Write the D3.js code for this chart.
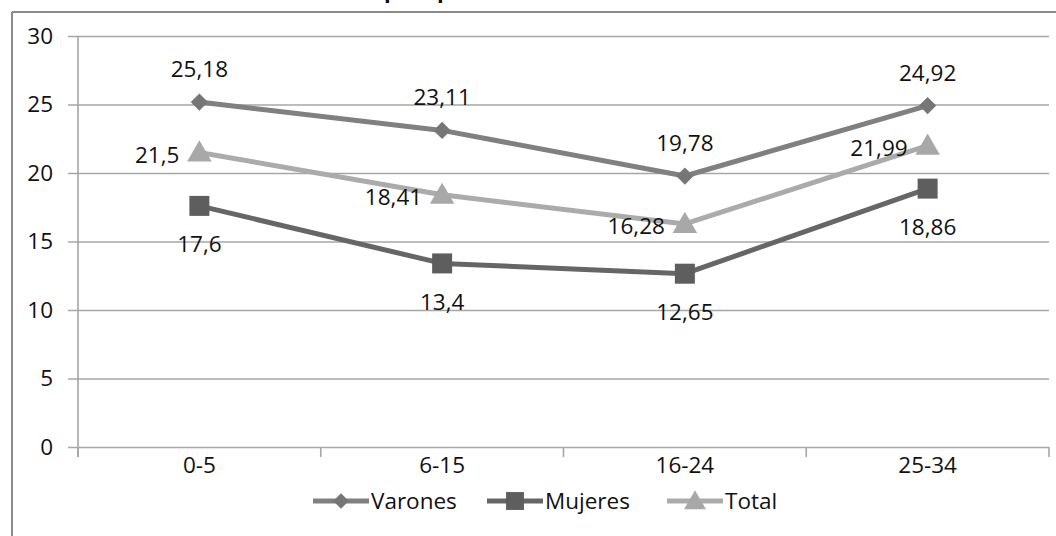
<!DOCTYPE html>
<html>
<head>
<meta charset="utf-8">
<script src="https://cdn.jsdelivr.net/npm/d3@7"></script>
<style>
  html, body { margin: 0; padding: 0; background: #fff; }
  svg { display: block; }
  text { font-family: "Open Sans", Lato, sans-serif; fill: #111; }
</style>
</head>
<body>
<svg id="chart" width="1056" height="536"></svg>
<script>
// Age groups and rates by sex
const categories = ["0-5", "6-15", "16-24", "25-34"];
const varones = [25.18, 23.11, 19.78, 24.92];
const mujeres = [17.6, 13.4, 12.65, 18.86];
const total = [21.5, 18.41, 16.28, 21.99];
const yTicks = [0, 5, 10, 15, 20, 25, 30];
const titleText = "Tasa de desempleo por sexo";

const series = [
  { name: "Varones", values: varones, line: "#808080", fill: "#767676", symbol: d3.symbolDiamond2, size: 190, label: "above" },
  { name: "Mujeres", values: mujeres, line: "#666666", fill: "#5e5e5e", symbol: d3.symbolSquare, size: 400, label: "below" },
  { name: "Total",   values: total,   line: "#ababab", fill: "#a8a8a8", symbol: d3.symbolTriangle, size: 260, label: "left" }
];

const FONT = "'Open Sans', Lato, sans-serif";
const FS = 22.5;

const svg = d3.select("#chart");
const fmt = v => String(v).replace(".", ",");

const plotLeft = 78, plotRight = 1049, plotTop = 36, plotBottom = 447;
const x = d3.scaleBand().domain(categories).range([plotLeft, plotRight]);
const y = d3.scaleLinear().domain([0, 30]).range([plotBottom, plotTop]);

// Outer frame (only top and left edges fall inside the view)
svg.append("line").attr("x1", 12).attr("x2", 1056).attr("y1", 12).attr("y2", 12)
  .attr("stroke", "#8c8c8c").attr("stroke-width", 2);
svg.append("line").attr("x1", 12).attr("x2", 12).attr("y1", 12).attr("y2", 536)
  .attr("stroke", "#8c8c8c").attr("stroke-width", 2);

// Title sits above the frame, mostly out of view
const title = svg.append("text").attr("y", -2).attr("font-size", 22).attr("font-weight", "bold")
  .text(titleText);
const pIdx = titleText.indexOf("p");
const pPos = title.node().getStartPositionOfChar(pIdx).x;
title.attr("x", 384 - pPos);

// Horizontal gridlines with left tick stubs
const yAxis = d3.axisLeft(y).tickValues(yTicks).tickSize(0).tickPadding(0).tickFormat(d => d);
const gy = svg.append("g").attr("transform", `translate(${plotLeft - 10},0)`).call(yAxis);
gy.select(".domain").remove();
gy.selectAll(".tick line").attr("x1", 0).attr("x2", plotRight - plotLeft + 10)
  .attr("stroke", "#a6a6a6").attr("stroke-width", 1.6);
gy.selectAll(".tick text").attr("font-size", FS).attr("font-family", FONT)
  .attr("fill", "#111").attr("x", -15);

// Vertical axis line
svg.append("line").attr("x1", plotLeft).attr("x2", plotLeft).attr("y1", plotTop).attr("y2", plotBottom + 10)
  .attr("stroke", "#a6a6a6").attr("stroke-width", 1.6);

// Category axis: ticks between bands, labels centred
const xAxis = d3.axisBottom(x).tickSize(0).tickPadding(10);
const gx = svg.append("g").attr("transform", `translate(0,${plotBottom})`).call(xAxis);
gx.select(".domain").remove();
gx.selectAll(".tick text").attr("font-size", FS).attr("font-family", FONT).attr("fill", "#111");
const bounds = categories.map(c => x(c)).concat([plotRight]);
svg.selectAll(".xtick").data(bounds).join("line").attr("class", "xtick")
  .attr("x1", d => d).attr("x2", d => d).attr("y1", plotBottom).attr("y2", plotBottom + 10)
  .attr("stroke", "#a6a6a6").attr("stroke-width", 1.6);

const cx = c => x(c) + x.bandwidth() / 2;
const line = d3.line().x((d, i) => cx(categories[i])).y(d => y(d));

// Lines, markers and value labels
series.forEach(s => {
  const g = svg.append("g");
  g.append("path").datum(s.values).attr("d", line)
    .attr("fill", "none").attr("stroke", s.line).attr("stroke-width", 5).attr("stroke-linejoin", "round");
  g.selectAll("path.m").data(s.values).join("path").attr("class", "m")
    .attr("d", d3.symbol().type(s.symbol).size(s.size))
    .attr("transform", (d, i) => `translate(${cx(categories[i])},${y(d) + (s.symbol === d3.symbolTriangle ? 2 : 0)})`)
    .attr("fill", s.fill);
  g.selectAll("text").data(s.values).join("text")
    .attr("font-size", FS)
    .attr("x", (d, i) => s.label === "left" ? cx(categories[i]) - 20 : cx(categories[i]))
    .attr("y", d => s.label === "above" ? y(d) - 33 : s.label === "below" ? y(d) + 38 : y(d) + 2)
    .attr("dy", "0.36em")
    .attr("text-anchor", s.label === "left" ? "end" : "middle")
    .text(d => fmt(d));
});

// Legend
const legendX = [313, 487, 667];
const lg = svg.append("g");
series.forEach((s, i) => {
  const g = lg.append("g").attr("transform", `translate(${legendX[i]},501)`);
  g.append("line").attr("x1", 0).attr("x2", 56).attr("stroke", s.line).attr("stroke-width", 5);
  g.append("path").attr("d", d3.symbol().type(s.symbol).size(s.size * 0.8))
    .attr("transform", `translate(28,${s.symbol === d3.symbolTriangle ? 2 : 0})`).attr("fill", s.fill);
  g.append("text").attr("x", 58).attr("dy", "0.36em").attr("font-size", FS).text(s.name);
});
</script>
</body>
</html>
